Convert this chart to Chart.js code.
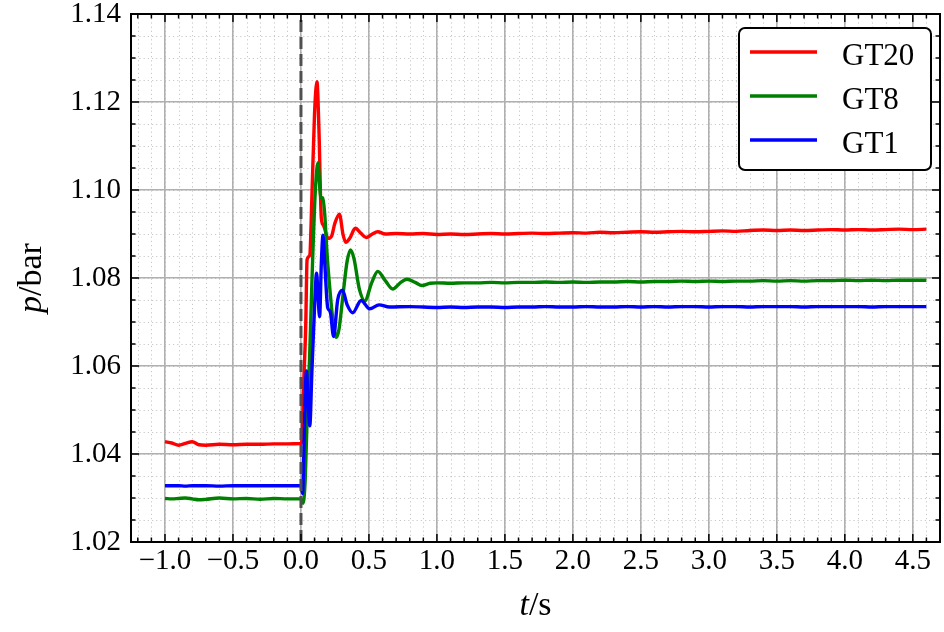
<!DOCTYPE html>
<html>
<head>
<meta charset="utf-8">
<title>GT pressure step</title>
<script src="https://cdn.jsdelivr.net/npm/chart.js@4.4.1/dist/chart.umd.min.js"></script>
<style>
  html, body { margin: 0; padding: 0; background: #fff; }
</style>
</head>
<body>
<canvas id="chart" width="944" height="632"></canvas>
<script>
// pressure at three gauges around a step at t = 0
const xTicks = [-1.0, -0.5, 0.0, 0.5, 1.0, 1.5, 2.0, 2.5, 3.0, 3.5, 4.0, 4.5];
const yTicks = [1.02, 1.04, 1.06, 1.08, 1.10, 1.12, 1.14];

const preTime = [-1.0, -0.95, -0.9, -0.85, -0.8, -0.75, -0.7, -0.6, -0.5, -0.4, -0.3, -0.2, -0.1, 0.0];
const steadyTime = [1.0, 1.1, 1.2, 1.3, 1.4, 1.5, 1.6, 1.7, 1.8, 1.9, 2.0, 2.1, 2.2, 2.3, 2.4, 2.5, 2.6, 2.7, 2.8,
  2.9, 3.0, 3.1, 3.2, 3.3, 3.4, 3.5, 3.6, 3.7, 3.8, 3.9, 4.0, 4.1, 4.2, 4.3, 4.4, 4.5, 4.6];

const gt20Pre = [1.0428, 1.0425, 1.0420, 1.0424, 1.0428, 1.0421, 1.0420, 1.0422, 1.0421, 1.0422, 1.0422, 1.0423, 1.0423, 1.0424];
const gt20StepTime = [0.008, 0.02, 0.035, 0.045, 0.065, 0.08, 0.1, 0.118, 0.132, 0.15, 0.165, 0.2, 0.225, 0.25, 0.283,
  0.31, 0.33, 0.36, 0.4, 0.44, 0.48, 0.52, 0.565, 0.62, 0.7, 0.8, 0.9];
const gt20Step = [1.0434, 1.056, 1.069, 1.0842, 1.0852, 1.098, 1.1175, 1.1246, 1.114, 1.0935, 1.0920, 1.0890, 1.0895, 1.0925, 1.0945,
  1.0898, 1.0881, 1.0891, 1.0913, 1.0902, 1.0892, 1.0899, 1.0905, 1.0900, 1.0901, 1.0900, 1.0901];
const gt20Steady = [1.0899, 1.0900, 1.0899, 1.0900, 1.0901, 1.0900, 1.0901, 1.0902, 1.0901, 1.0902, 1.0903, 1.0902, 1.0904, 1.0903,
  1.0904, 1.0905, 1.0904, 1.0905, 1.0906, 1.0905, 1.0906, 1.0907, 1.0906, 1.0908, 1.0909, 1.0908, 1.0909, 1.0908, 1.0909, 1.0910,
  1.0909, 1.0910, 1.0909, 1.0910, 1.0911, 1.0910, 1.0911];

const gt8Pre = [1.0299, 1.0298, 1.0299, 1.0300, 1.0298, 1.0296, 1.0297, 1.0300, 1.0298, 1.0299, 1.0297, 1.0299, 1.0298, 1.0298];
const gt8StepTime = [0.015, 0.03, 0.045, 0.063, 0.085, 0.105, 0.125, 0.145, 0.16, 0.175, 0.19, 0.21, 0.235, 0.26, 0.28, 0.31,
  0.34, 0.365, 0.39, 0.43, 0.47, 0.52, 0.565, 0.62, 0.675, 0.73, 0.78, 0.84, 0.89, 0.95];
const gt8Step = [1.0288, 1.0334, 1.0474, 1.0614, 1.0834, 1.0994, 1.1062, 1.0984, 1.0982, 1.0944, 1.0864, 1.0784, 1.0704, 1.0665,
  1.0684, 1.0764, 1.0839, 1.0864, 1.0844, 1.0774, 1.0748, 1.0789, 1.0815, 1.0794, 1.0775, 1.0789, 1.0797, 1.0790, 1.0783, 1.0788];
const gt8Steady = [1.0789, 1.0788, 1.0789, 1.0789, 1.0790, 1.0789, 1.0790, 1.0790, 1.0791, 1.0790, 1.0791, 1.0790, 1.0791, 1.0791,
  1.0792, 1.0791, 1.0792, 1.0792, 1.0793, 1.0792, 1.0793, 1.0792, 1.0793, 1.0793, 1.0794, 1.0793, 1.0794, 1.0793, 1.0794, 1.0794,
  1.0795, 1.0794, 1.0795, 1.0794, 1.0795, 1.0795, 1.0795];

const gt1Pre = [1.0328, 1.0328, 1.0328, 1.0327, 1.0328, 1.0328, 1.0328, 1.0327, 1.0328, 1.0328, 1.0328, 1.0328, 1.0328, 1.0328];
const gt1StepTime = [0.012, 0.025, 0.04, 0.055, 0.065, 0.08, 0.1, 0.115, 0.125, 0.137, 0.15, 0.162, 0.175, 0.197, 0.215, 0.24,
  0.27, 0.305, 0.34, 0.38, 0.443, 0.505, 0.575, 0.65, 0.8];
const gt1Step = [1.0310, 1.0454, 1.0589, 1.0504, 1.0464, 1.0584, 1.0734, 1.0811, 1.0764, 1.0712, 1.0834, 1.0897, 1.0834, 1.0732,
  1.0724, 1.0667, 1.0750, 1.0772, 1.0739, 1.0721, 1.0749, 1.0730, 1.0739, 1.0734, 1.0735];
const gt1Steady = [1.0733, 1.0734, 1.0733, 1.0734, 1.0734, 1.0733, 1.0734, 1.0734, 1.0735, 1.0734, 1.0734, 1.0735, 1.0734, 1.0734,
  1.0735, 1.0734, 1.0735, 1.0734, 1.0735, 1.0735, 1.0734, 1.0735, 1.0735, 1.0734, 1.0735, 1.0735, 1.0735, 1.0734, 1.0735, 1.0735,
  1.0735, 1.0735, 1.0734, 1.0735, 1.0735, 1.0735, 1.0735];

const eventTime = [0.0, 0.0];

const SERIF = '"Liberation Serif", "Times New Roman", serif';
const LINE_W = 3.4;

function toPoints(times, values) {
  return times.map((t, i) => ({ x: t, y: values[i] }));
}

function series(pre, stepTime, step, steady) {
  return [...toPoints(preTime, pre), ...toPoints(stepTime, step), ...toPoints(steadyTime, steady)];
}

function minusSign(s) {
  return s.replace('-', '\u2212');
}

// text made of [string, italic] pieces, centred on (0,0) of the current transform
function drawPieces(ctx, pieces, size) {
  const fonts = pieces.map(([, it]) => (it ? 'italic ' : '') + size + 'px ' + SERIF);
  const widths = pieces.map(([s], i) => { ctx.font = fonts[i]; return ctx.measureText(s).width; });
  let x = -widths.reduce((a, b) => a + b, 0) / 2;
  pieces.forEach(([s], i) => {
    ctx.font = fonts[i];
    ctx.fillText(s, x, 0);
    x += widths[i];
  });
}

function roundBox(ctx, l, t, r, b, rad) {
  ctx.beginPath();
  ctx.moveTo(l + rad, t);
  ctx.arcTo(r, t, r, b, rad);
  ctx.arcTo(r, b, l, b, rad);
  ctx.arcTo(l, b, l, t, rad);
  ctx.arcTo(l, t, r, t, rad);
  ctx.closePath();
}

const axesDecor = {
  id: 'axesDecor',
  beforeDraw(chart) {
    const { ctx, chartArea: a, scales: { x, y } } = chart;
    ctx.save();
    ctx.fillStyle = '#fff';
    ctx.fillRect(0, 0, chart.width, chart.height);
    // dotted minor grid
    ctx.strokeStyle = '#c8c8c8';
    ctx.lineWidth = 1;
    ctx.setLineDash([1.2, 3]);
    ctx.beginPath();
    for (let i = -12; i <= 47; i++) {
      const px = Math.round(x.getPixelForValue(i / 10)) + 0.5;
      ctx.moveTo(px, a.top); ctx.lineTo(px, a.bottom);
    }
    for (let i = 0; i <= 24; i++) {
      const py = Math.round(y.getPixelForValue(1.02 + i * 0.005)) + 0.5;
      ctx.moveTo(a.left, py); ctx.lineTo(a.right, py);
    }
    ctx.stroke();
    ctx.restore();
  },
  afterDraw(chart) {
    const { ctx, chartArea: a, scales: { x, y } } = chart;
    ctx.save();
    ctx.strokeStyle = '#000';
    ctx.lineWidth = 1.5;
    ctx.beginPath();
    // inward ticks on all four sides
    const xTick = (v, len) => {
      const px = x.getPixelForValue(v);
      ctx.moveTo(px, a.bottom); ctx.lineTo(px, a.bottom - len);
      ctx.moveTo(px, a.top); ctx.lineTo(px, a.top + len);
    };
    const yTick = (v, len) => {
      const py = y.getPixelForValue(v);
      ctx.moveTo(a.left, py); ctx.lineTo(a.left + len, py);
      ctx.moveTo(a.right, py); ctx.lineTo(a.right - len, py);
    };
    for (let i = -12; i <= 47; i++) xTick(i / 10, 4.5);
    for (let i = 0; i <= 24; i++) yTick(1.02 + i * 0.005, 4.5);
    xTicks.forEach(v => xTick(v, 8));
    yTicks.forEach(v => yTick(v, 8));
    ctx.stroke();
    ctx.lineWidth = 2;
    ctx.strokeRect(a.left, a.top, a.right - a.left, a.bottom - a.top);

    // legend
    const l = a.right - 201, t = a.top + 14, r = a.right - 9, b = a.top + 156;
    roundBox(ctx, l, t, r, b, 6);
    ctx.fillStyle = '#fff';
    ctx.fill();
    ctx.lineWidth = 2;
    ctx.stroke();
    ctx.font = '31px ' + SERIF;
    ctx.textBaseline = 'alphabetic';
    ctx.textAlign = 'left';
    chart.data.datasets.filter(d => d.label).forEach((d, i) => {
      const ly = t + 24 + i * 44;
      ctx.strokeStyle = d.borderColor;
      ctx.lineWidth = LINE_W;
      ctx.beginPath();
      ctx.moveTo(l + 11, ly); ctx.lineTo(l + 78, ly);
      ctx.stroke();
      ctx.fillStyle = '#000';
      ctx.fillText(d.label, l + 103, ly + 12.5);
    });

    // axis titles
    ctx.fillStyle = '#000';
    ctx.textAlign = 'left';
    ctx.textBaseline = 'alphabetic';
    ctx.save();
    ctx.translate((a.left + a.right) / 2, 615);
    drawPieces(ctx, [['t', true], ['/s', false]], 34);
    ctx.restore();
    ctx.save();
    ctx.translate(41, (a.top + a.bottom) / 2);
    ctx.rotate(-Math.PI / 2);
    drawPieces(ctx, [['p', true], ['/bar', false]], 34);
    ctx.restore();
    ctx.restore();
  }
};

const lineStyle = { borderWidth: LINE_W, cubicInterpolationMode: 'monotone', borderJoinStyle: 'round' };

new Chart(document.getElementById('chart'), {
  type: 'line',
  data: {
    datasets: [
      { label: 'GT20', data: series(gt20Pre, gt20StepTime, gt20Step, gt20Steady), borderColor: '#ff0000', order: 4, ...lineStyle },
      { label: 'GT8', data: series(gt8Pre, gt8StepTime, gt8Step, gt8Steady), borderColor: '#008000', order: 3, ...lineStyle },
      { label: 'GT1', data: series(gt1Pre, gt1StepTime, gt1Step, gt1Steady), borderColor: '#0000ff', order: 2, ...lineStyle },
      {
        data: toPoints(eventTime, [yTicks[0], yTicks[yTicks.length - 1]]),
        borderColor: '#505050', borderWidth: 3, borderDash: [12, 5], order: 1
      }
    ]
  },
  options: {
    responsive: false,
    animation: false,
    layout: { padding: { top: 14, right: 4, left: 0, bottom: 0 } },
    plugins: { legend: { display: false }, tooltip: { enabled: false } },
    elements: {
      point: { radius: 0 },
      line: { tension: 0, fill: false }
    },
    scales: {
      x: {
        type: 'linear',
        min: -1.25,
        max: 4.7,
        afterBuildTicks: s => { s.ticks = xTicks.map(v => ({ value: v })); },
        afterFit: s => { s.height = 90; s.paddingLeft = 0; s.paddingRight = 0; },
        grid: { color: '#b0b0b0', lineWidth: 1.6, drawTicks: false },
        border: { display: false },
        ticks: {
          color: '#000', padding: 2, maxRotation: 0, autoSkip: false,
          font: { family: SERIF, size: 29 },
          callback: v => minusSign(v.toFixed(1))
        }
      },
      y: {
        type: 'linear',
        min: 1.02,
        max: 1.14,
        afterBuildTicks: s => { s.ticks = yTicks.map(v => ({ value: v })); },
        afterFit: s => { s.width = 131; s.paddingTop = 0; s.paddingBottom = 0; },
        grid: { color: '#b0b0b0', lineWidth: 1.6, drawTicks: false },
        border: { display: false },
        ticks: {
          color: '#000', padding: 10, autoSkip: false,
          font: { family: SERIF, size: 29 },
          callback: v => v.toFixed(2)
        }
      }
    }
  },
  plugins: [axesDecor]
});
</script>
</body>
</html>
